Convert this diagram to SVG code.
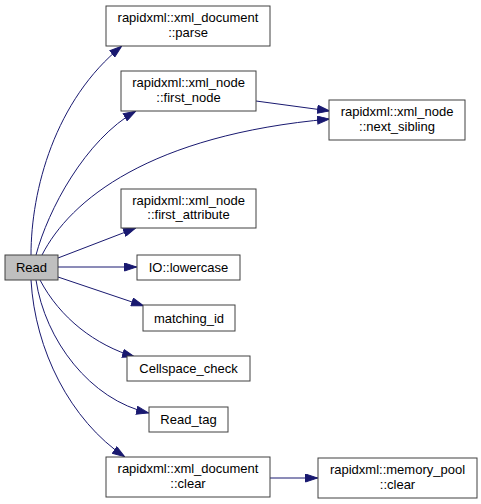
<svg xmlns="http://www.w3.org/2000/svg" width="481" height="504" viewBox="0 0 481 504">
<defs>
<style>
.node rect{fill:#ffffff;stroke:#404040;stroke-width:1}
.node.cur rect{fill:#bfbfbf}
.node text{font-family:"Liberation Sans",Arial,sans-serif;font-size:13px;fill:#000000;text-anchor:middle}
.edges path{fill:none;stroke:#191970;stroke-width:1;marker-end:url(#arr)}
</style>
<marker id="arr" viewBox="0 0 13 9" refX="13" refY="4.5" markerWidth="13" markerHeight="9" markerUnits="userSpaceOnUse" orient="auto">
<path d="M0.5,0.5 L12.5,4.5 L0.5,8.5 z" fill="#191970" stroke="#191970"/>
</marker>
</defs>
<rect width="481" height="504" fill="#ffffff"/>
<g class="edges" id="edges">
<path d="M31,255 C31,190 55,100 122,46"/>
<path d="M36,255 C48,210 85,140 136,111"/>
<path d="M42,255 C70,200 150,135 330,119"/>
<path d="M256,101 L330,111"/>
<path d="M58,258 L136,228"/>
<path d="M58,267 L137,267"/>
<path d="M58,277 L144,306"/>
<path d="M40,280 C60,318 95,345 135,357"/>
<path d="M36,280 C45,340 90,400 149,413"/>
<path d="M31,280 C35,350 70,420 125,457"/>
<path d="M270,478 L318,478"/>
</g>
<g class="node cur" id="node-read"><rect x="5" y="255" width="53" height="25"/><text x="31.5" y="272">Read</text></g>
<g class="node" id="node-parse"><rect x="106" y="6" width="164" height="40"/><text x="188" y="22">rapidxml::xml_document</text><text x="188" y="36.5">::parse</text></g>
<g class="node" id="node-first-node"><rect x="121" y="71" width="135" height="40"/><text x="188.5" y="87">rapidxml::xml_node</text><text x="188.5" y="101.5">::first_node</text></g>
<g class="node" id="node-next-sibling"><rect x="329" y="100" width="136" height="40"/><text x="397" y="116">rapidxml::xml_node</text><text x="397" y="130.5">::next_sibling</text></g>
<g class="node" id="node-first-attribute"><rect x="121" y="189" width="135" height="39"/><text x="188.5" y="204.5">rapidxml::xml_node</text><text x="188.5" y="219">::first_attribute</text></g>
<g class="node" id="node-lowercase"><rect x="137" y="255" width="103" height="25"/><text x="188.5" y="272">IO::lowercase</text></g>
<g class="node" id="node-matching-id"><rect x="143" y="305" width="92" height="26"/><text x="189" y="322.5">matching_id</text></g>
<g class="node" id="node-cellspace"><rect x="127" y="356" width="123" height="25"/><text x="188.5" y="373">Cellspace_check</text></g>
<g class="node" id="node-read-tag"><rect x="149" y="407" width="79" height="25"/><text x="188.5" y="424">Read_tag</text></g>
<g class="node" id="node-doc-clear"><rect x="106" y="457" width="164" height="40"/><text x="188" y="473">rapidxml::xml_document</text><text x="188" y="487.5">::clear</text></g>
<g class="node" id="node-pool-clear"><rect x="318" y="458" width="159" height="40"/><text x="397.5" y="474">rapidxml::memory_pool</text><text x="397.5" y="488.5">::clear</text></g>
</svg>
